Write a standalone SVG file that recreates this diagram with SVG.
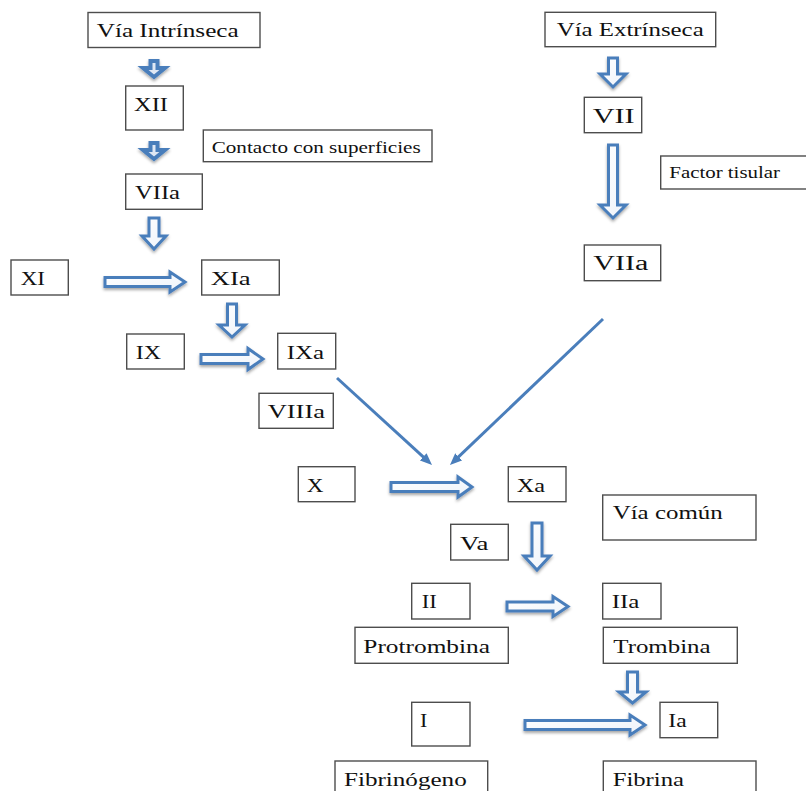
<svg xmlns="http://www.w3.org/2000/svg" width="806" height="791" viewBox="0 0 806 791">
<style>
.box{fill:#fff;stroke:#4d4d4d;stroke-width:1.4}
.t{font-family:"Liberation Serif","Times New Roman",serif;font-size:19px;fill:#111}
.s{font-size:16px}
.blk{fill:url(#gr);stroke:#4A7EBB;stroke-width:3;stroke-linejoin:miter;filter:url(#sh)}
.sm{fill:#dfe8f4;stroke-width:4}
.ln{fill:none;stroke:#4A7EBB;stroke-width:3}
</style>
<defs>
<linearGradient id="gr" x1="0" y1="0" x2="1" y2="1">
<stop offset="0" stop-color="#ffffff"/>
<stop offset="1" stop-color="#eef3fa"/>
</linearGradient>
<filter id="sh" x="-30%" y="-30%" width="160%" height="170%">
<feDropShadow dx="0" dy="2" stdDeviation="1.5" flood-color="#000" flood-opacity="0.35"/>
</filter>
<marker id="ah" viewBox="0 0 12 10" markerUnits="userSpaceOnUse" markerWidth="12" markerHeight="10" refX="6" refY="5" orient="auto">
<path d="M0,0 L12,5 L0,10 Z" fill="#4A7EBB"/>
</marker>
</defs>
<rect width="806" height="791" fill="#fff"/>

<g id="connectors">
<path class="blk sm" d="M150.5,61 L157.5,61 L157.5,68 L165,68 L154,77 L143,68 L150.5,68 Z"/>
<path class="blk sm" d="M150.5,143 L157.5,143 L157.5,150 L165,150 L154,159 L143,150 L150.5,150 Z"/>
<path class="blk" d="M149,218 L159,218 L159,236 L166,236 L154,249 L142,236 L149,236 Z"/>
<path class="blk" d="M608.5,58 L617.5,58 L617.5,74 L626,74 L613,87 L600,74 L608.5,74 Z"/>
<path class="blk" d="M608.5,145 L617.5,145 L617.5,205 L626,205 L613,218 L600,205 L608.5,205 Z"/>
<path class="blk" d="M227.5,304 L236.5,304 L236.5,325 L245,325 L232,337 L219,325 L227.5,325 Z"/>
<path class="blk" d="M532,523 L542,523 L542,556 L550,556 L537,570 L524,556 L532,556 Z"/>
<path class="blk" d="M627.5,672 L637.5,672 L637.5,692 L646,692 L632.5,703 L619,692 L627.5,692 Z"/>
<path class="blk" d="M105,277.5 L170,277.5 L170,272 L185,282 L170,292 L170,286.5 L105,286.5 Z"/>
<path class="blk" d="M201,354.5 L248,354.5 L248,348.5 L263,359 L248,369.5 L248,363.5 L201,363.5 Z"/>
<path class="blk" d="M391,482.5 L458,482.5 L458,477 L472,487 L458,497 L458,491.5 L391,491.5 Z"/>
<path class="blk" d="M507,602 L553,602 L553,596.5 L568,606.5 L553,616.5 L553,611 L507,611 Z"/>
<path class="blk" d="M525,720.5 L630,720.5 L630,715 L645,725 L630,735 L630,729.5 L525,729.5 Z"/>
<line class="ln" x1="337" y1="378" x2="427.6" y2="460.9" marker-end="url(#ah)"/>
<line class="ln" x1="603" y1="319" x2="454.3" y2="460.9" marker-end="url(#ah)"/>
</g>

<g id="via-intrinseca"><rect class="box" x="88" y="12.5" width="172" height="35"/><text class="t" x="96.7" y="36.5" textLength="142" lengthAdjust="spacingAndGlyphs">Vía Intrínseca</text></g>
<g id="xii"><rect class="box" x="125.7" y="86" width="57.6" height="44"/><text class="t" x="134" y="111" textLength="34" lengthAdjust="spacingAndGlyphs">XII</text></g>
<g id="contacto"><rect class="box" x="203.3" y="130" width="228.7" height="31.7"/><text class="t s" x="211.7" y="152.5" textLength="209" lengthAdjust="spacingAndGlyphs">Contacto con superficies</text></g>
<g id="viia-left"><rect class="box" x="125.7" y="174" width="76.6" height="35.3"/><text class="t" x="135" y="199.3" textLength="45" lengthAdjust="spacingAndGlyphs">VIIa</text></g>
<g id="via-extrinseca"><rect class="box" x="545" y="12.3" width="170.7" height="34.4"/><text class="t" x="556.7" y="36" textLength="147" lengthAdjust="spacingAndGlyphs">Vía Extrínseca</text></g>
<g id="vii"><rect class="box" x="584.3" y="97.3" width="57.4" height="35.4"/><text class="t" x="592.7" y="122.7" style="font-size:20px" textLength="42" lengthAdjust="spacingAndGlyphs">VII</text></g>
<g id="factor-tisular"><rect class="box" x="660.7" y="156" width="150" height="33"/><text class="t s" x="669.3" y="177.7" textLength="110.7" lengthAdjust="spacingAndGlyphs">Factor tisular</text></g>
<g id="viia-right"><rect class="box" x="584.3" y="245" width="76.4" height="35.7"/><text class="t" x="593.3" y="270" style="font-size:20px" textLength="55" lengthAdjust="spacingAndGlyphs">VIIa</text></g>
<g id="xi"><rect class="box" x="11" y="260" width="57.3" height="35"/><text class="t" x="20.7" y="285" textLength="24.3" lengthAdjust="spacingAndGlyphs">XI</text></g>
<g id="xia"><rect class="box" x="201.7" y="260" width="77.6" height="35"/><text class="t" x="210.7" y="285" textLength="40" lengthAdjust="spacingAndGlyphs">XIa</text></g>
<g id="ix"><rect class="box" x="126.7" y="334" width="57.6" height="35"/><text class="t" x="135.7" y="359" textLength="25.3" lengthAdjust="spacingAndGlyphs">IX</text></g>
<g id="ixa"><rect class="box" x="277.7" y="333.3" width="58" height="35.7"/><text class="t" x="286.7" y="359" textLength="37.3" lengthAdjust="spacingAndGlyphs">IXa</text></g>
<g id="viiia"><rect class="box" x="259" y="393.3" width="74.3" height="35"/><text class="t" x="267.7" y="418.3" textLength="57.3" lengthAdjust="spacingAndGlyphs">VIIIa</text></g>
<g id="x"><rect class="box" x="298.3" y="466.7" width="56.7" height="35"/><text class="t" x="306.7" y="491.7" textLength="16.7" lengthAdjust="spacingAndGlyphs">X</text></g>
<g id="xa"><rect class="box" x="508.3" y="466.7" width="57.7" height="35"/><text class="t" x="516.7" y="491.7" textLength="28.3" lengthAdjust="spacingAndGlyphs">Xa</text></g>
<g id="via-comun"><rect class="box" x="602.7" y="495" width="153.3" height="45"/><text class="t" x="612.7" y="519.3" textLength="110" lengthAdjust="spacingAndGlyphs">Vía común</text></g>
<g id="va"><rect class="box" x="450.7" y="524.3" width="57.6" height="35.7"/><text class="t" x="460" y="550" textLength="28.3" lengthAdjust="spacingAndGlyphs">Va</text></g>
<g id="ii"><rect class="box" x="411.7" y="583.3" width="58.3" height="35.7"/><text class="t" x="421.7" y="608.3" textLength="15" lengthAdjust="spacingAndGlyphs">II</text></g>
<g id="iia"><rect class="box" x="602.7" y="583.3" width="58.3" height="35.7"/><text class="t" x="611.7" y="608.3" textLength="27.7" lengthAdjust="spacingAndGlyphs">IIa</text></g>
<g id="protrombina"><rect class="box" x="355" y="627.3" width="153.3" height="36"/><text class="t" x="363.3" y="652.7" textLength="126.7" lengthAdjust="spacingAndGlyphs">Protrombina</text></g>
<g id="trombina"><rect class="box" x="603.3" y="627.3" width="134" height="36"/><text class="t" x="613.3" y="652.7" textLength="97.3" lengthAdjust="spacingAndGlyphs">Trombina</text></g>
<g id="i"><rect class="box" x="411.7" y="702.3" width="58.3" height="43.7"/><text class="t" x="420" y="726.7" textLength="7.3" lengthAdjust="spacingAndGlyphs">I</text></g>
<g id="ia"><rect class="box" x="660" y="702.3" width="57.7" height="35.4"/><text class="t" x="668.3" y="726.7" textLength="18.3" lengthAdjust="spacingAndGlyphs">Ia</text></g>
<g id="fibrinogeno"><rect class="box" x="335" y="761" width="152.7" height="40"/><text class="t" x="344" y="786" textLength="122.7" lengthAdjust="spacingAndGlyphs">Fibrinógeno</text></g>
<g id="fibrina"><rect class="box" x="603.3" y="761" width="152.7" height="40"/><text class="t" x="612.7" y="786" textLength="71.3" lengthAdjust="spacingAndGlyphs">Fibrina</text></g>
</svg>
